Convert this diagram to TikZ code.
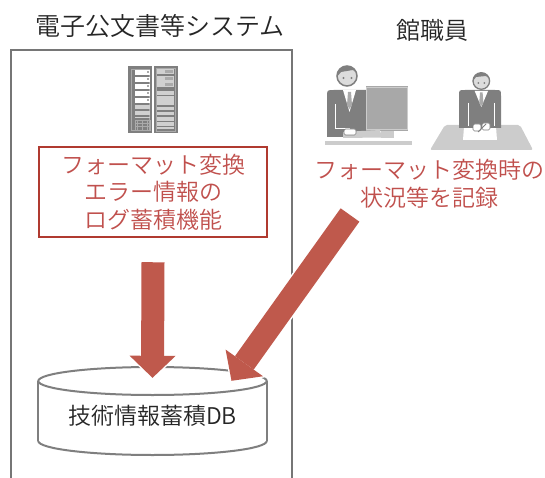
\documentclass[tikz,border=0pt]{standalone}
\usepackage{fontspec}
\setmainfont{Noto Sans CJK JP}[UprightFont={* DemiLight}]
\usepackage{tikz}
\usetikzlibrary{arrows.meta,calc}

\definecolor{txtred}{RGB}{192,80,77}
\definecolor{boxred}{RGB}{176,58,48}
\definecolor{arrred}{RGB}{191,89,76}
\definecolor{framegray}{RGB}{118,118,118}
\definecolor{suit}{RGB}{127,127,127}
\definecolor{tiegray}{RGB}{170,170,170}
\definecolor{face}{RGB}{220,220,220}
\definecolor{lightgray}{RGB}{204,204,204}
\definecolor{rackpanel}{RGB}{208,208,208}
\definecolor{monitor}{RGB}{168,168,168}

\begin{document}
\begin{tikzpicture}[x=1pt,y=-1pt,
    jp/.style={font=\fontsize{23}{27.5}\selectfont,align=center,inner sep=0pt},
    bigarrow/.style={line width=23pt,arrred,-{Triangle[length=22pt,width=46pt,line width=0pt]}},
    bigarrowedge/.style={line width=26pt,white,shorten >=-2pt,shorten <=-1.5pt,
      -{Triangle[length=25pt,width=52pt,line width=0pt]}},
    cyl/.style={draw=suit,line width=2pt}]
  \useasboundingbox (0,0) rectangle (545,478);

  % system frame, open at the bottom
  \draw[framegray,line width=2pt] (11,480) -- (11,50) -- (292,50) -- (292,480);
  \node[jp,font=\fontsize{25}{30}\selectfont,text=black!85] (sys) at (160,26) {電子公文書等システム};
  \node[jp,font=\fontsize{24}{28}\selectfont,text=black!85] (staff) at (432,30) {館職員};

  % server racks
  \begin{scope}[shift={(128,66)}]
    \fill[suit] (0,0) rectangle (24,67);
    \fill[suit] (26,0) rectangle (50,67);
    \draw[tiegray,line width=.8pt] (3.5,3) rectangle (21.5,64);
    \draw[tiegray,line width=.8pt] (28.5,2) rectangle (47.5,65);
    \foreach \y in {4,11,18,25,32} {
      \fill[white] (7,\y) rectangle ++(15,5.5);
      \fill[tiegray] (18.5,\y+1) rectangle ++(2.5,2.5);
    }
    \foreach \y/\h in {39/4.3,45/4,50.7/1.6}
      \fill[rackpanel] (7,\y) rectangle ++(15,\h);
    \draw[tiegray,line width=.7pt] (7,54) rectangle (22,64);
    \foreach \x in {9.5,14.5,19.5}
      \draw[tiegray,line width=.7pt] (\x,54) -- (\x,64);
    \foreach \y in {57.3,60.7}
      \draw[tiegray,line width=.7pt] (7,\y) -- (22,\y);
    \foreach \y/\h in {3/5.3,10/5.7,16.3/5,25/4,29.7/9.3,40.7/3.3,45.7/3.3,50.7/4,55.7/4,60.7/2.5}
      \fill[rackpanel] (29.3,\y) rectangle ++(17,\h);
    \foreach \y in {4,11,17}
      \fill[tiegray] (37,\y) rectangle ++(8,3);
  \end{scope}

  % staff member at a computer
  \fill[suit] (327,137) -- (327,97) .. controls (327,90) .. (334,90) -- (366,90) -- (366,137) -- cycle;
  \fill[white] (343,90) -- (356,90) -- (349.5,112) -- cycle;
  \fill[tiegray] (348,92) -- (351,92) -- (352,105) -- (349.5,109) -- (347,105) -- cycle;
  \draw[white,line width=1pt] (335,104) -- (335,129) -- (350,129);
  \fill[face] (347,76) circle[radius=10];
  \begin{scope}
    \clip (347,76) circle[radius=10];
    \fill[suit] (335,63) -- (359,63) -- (359,75) -- (353,70) -- (341,72) -- (335,79) -- cycle;
  \end{scope}
  \draw[suit,line width=1.5pt] (347,76) circle[radius=10];
  \fill[suit] (343.5,78) circle[radius=1.2] (351.5,78) circle[radius=1.2];
  \fill[monitor] (365.5,86.5) rectangle (408,131);
  \draw[lightgray,line width=1pt] (366.5,87.5) rectangle (407,130);
  \fill[lightgray] (381,131) rectangle (394,138);
  \fill[lightgray] (343,132) -- (380,130) -- (382,137.5) -- (343,138) -- cycle;
  \filldraw[fill=white,draw=suit,line width=.6pt,rounded corners=1.5pt] (344,129) rectangle (356,135);
  \fill[lightgray] (325,141) rectangle (412,145.5);

  % staff member writing at a desk
  \fill[lightgray,rounded corners=2pt] (445,125) -- (520,125) -- (533,150) -- (430,150) -- cycle;
  \fill[white] (464,127) -- (496,127) -- (497,140) -- (463,140) -- cycle;
  \fill[suit] (459,128) -- (459,96) .. controls (459,90) .. (465,90) -- (495,90)
    .. controls (501,90) .. (501,96) -- (501,128) -- cycle;
  \fill[white] (474.7,91) -- (488,91) -- (481.3,107) -- cycle;
  \fill[tiegray] (480,92.5) -- (482.6,92.5) -- (483.4,103) -- (481.3,106) -- (479.2,103) -- cycle;
  \draw[white,line width=1pt] (468,103) -- (468,126) (494.7,103) -- (494.7,126);
  \filldraw[fill=white,draw=suit,line width=.6pt,rounded corners=1.5pt] (473,124) rectangle (481,131);
  \filldraw[fill=white,draw=suit,line width=.6pt,rounded corners=1.5pt] (482,123) rectangle (490,130);
  \draw[suit,line width=.8pt] (478,132) -- (486,124);
  \fill[face] (481.3,81) circle[radius=8.3];
  \begin{scope}
    \clip (481.3,81) circle[radius=8.3];
    \fill[suit] (472,71) -- (491,71) -- (491,80) -- (486,76) -- (476,77) -- (472,82) -- cycle;
  \end{scope}
  \draw[suit,line width=1.3pt] (481.3,81) circle[radius=8.3];
  \fill[suit] (478.3,83) circle[radius=1] (484.3,83) circle[radius=1];

  % texts in red
  \node[jp,draw=boxred,line width=2.5pt,text=txtred,minimum width=228,minimum height=90] (logbox)
    at (153,192) {フォーマット変換\\エラー情報の\\ログ蓄積機能};
  \node[jp,font=\fontsize{23}{28}\selectfont,text=txtred] (note) at (429,184) {フォーマット変換時の\\状況等を記録};

  % database
  \draw[cyl,fill=white] (152.5,441) ellipse[x radius=114.2,y radius=14];
  \fill[white] (38.3,381) rectangle (266.7,441);
  \draw[cyl] (38.3,381) -- (38.3,441) (266.7,381) -- (266.7,441);
  \draw[cyl,fill=white] (152.5,381) ellipse[x radius=114.2,y radius=14];
  \node[jp,text=black!85,minimum width=228,minimum height=70] (db) at (152.5,416) {技術情報蓄積DB};

  \coordinate (rec) at (350,215);
  \draw[bigarrowedge] ([yshift=-24pt]logbox.south) -- ([yshift=3pt]db.north);
  \draw[bigarrowedge] (rec) -- ([xshift=79pt]db.north);
  \draw[bigarrow] ([yshift=-24pt]logbox.south) -- ([yshift=3pt]db.north);
  \draw[bigarrow] (rec) -- ([xshift=79pt]db.north);
\end{tikzpicture}
\end{document}
